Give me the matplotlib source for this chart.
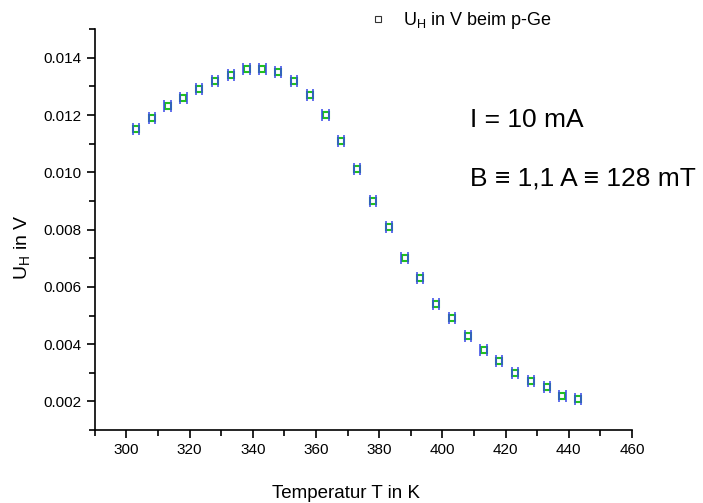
import matplotlib
matplotlib.use("Agg")
import matplotlib.pyplot as plt
from matplotlib.ticker import MultipleLocator

plt.rcParams['font.family'] = ['Liberation Sans', 'DejaVu Sans']
plt.rcParams['mathtext.fontset'] = 'custom'
plt.rcParams['mathtext.rm'] = 'Liberation Sans'

temperature = [303, 308, 313, 318, 323, 328, 333, 338, 343, 348, 353, 358, 363, 368,
               373, 378, 383, 388, 393, 398, 403, 408, 413, 418, 423, 428, 433, 438, 443]
u_hall = [0.0115, 0.0119, 0.0123, 0.0126, 0.0129, 0.0132, 0.0134, 0.0136, 0.0136,
          0.0135, 0.0132, 0.0127, 0.0120, 0.0111, 0.0101, 0.0090, 0.0081, 0.0070,
          0.0063, 0.0054, 0.0049, 0.0043, 0.0038, 0.0034, 0.0030, 0.0027, 0.0025,
          0.0022, 0.0021]
t_err = [1.0] * len(temperature)

x_ticks = [300, 320, 340, 360, 380, 400, 420, 440, 460]
y_ticks = [0.002, 0.004, 0.006, 0.008, 0.010, 0.012, 0.014]

fig = plt.figure(figsize=(7.03, 5.03), dpi=100)
ax = fig.add_axes([0.135, 0.145, 0.764, 0.797])

ax.errorbar(temperature, u_hall, xerr=t_err, fmt='none', ecolor='#3848e8',
            elinewidth=0, capsize=4, capthick=1.3, alpha=0.85, zorder=3)
ax.plot(temperature, u_hall, linestyle='none', marker='s', markersize=5,
        markerfacecolor='white', markeredgecolor='#22c022', markeredgewidth=1.5,
        zorder=2)

ax.set_xlim(290, 460)
ax.set_ylim(0.001, 0.015)
ax.set_xticks(x_ticks)
ax.set_yticks(y_ticks)
ax.set_yticklabels([f"{v:.3f}" for v in y_ticks])
ax.xaxis.set_minor_locator(MultipleLocator(10))
ax.yaxis.set_minor_locator(MultipleLocator(0.001))
ax.spines['top'].set_visible(False)
ax.spines['right'].set_visible(False)
for s in ('left', 'bottom'):
    ax.spines[s].set_linewidth(1.2)
ax.tick_params(which='major', length=6, width=1.2, labelsize=11)
ax.tick_params(which='minor', length=4, width=1.2)

ax.set_xlabel('Temperatur T in K', fontsize=13.5)
ax.xaxis.label.set_va('baseline')
ax.xaxis.set_label_coords(0.467, -0.17)
ax.set_ylabel(r'U$_\mathregular{H}$ in V', fontsize=14)
ax.yaxis.label.set_va('baseline')
ax.yaxis.set_label_coords(-0.125, 0.456)

# legend
leg_handle, = ax.plot([], [], linestyle='none', marker='s', markersize=4,
                      markerfacecolor='white', markeredgecolor='#333333', markeredgewidth=0.8)
ax.legend([leg_handle], [r'U$_\mathregular{H}$ in V beim p-Ge'], loc='upper left',
          bbox_to_anchor=(0.48, 1.0875), frameon=False, fontsize=13,
          handlelength=1.0, handletextpad=0.89)

ax.text(0.698, 0.756, 'I = 10 mA', transform=ax.transAxes, fontsize=19, va='baseline')
ax.text(0.698, 0.611, 'B ≡ 1,1 A ≡ 128 mT', transform=ax.transAxes, fontsize=19,
        va='baseline')

fig.savefig('out.png', dpi=100)
